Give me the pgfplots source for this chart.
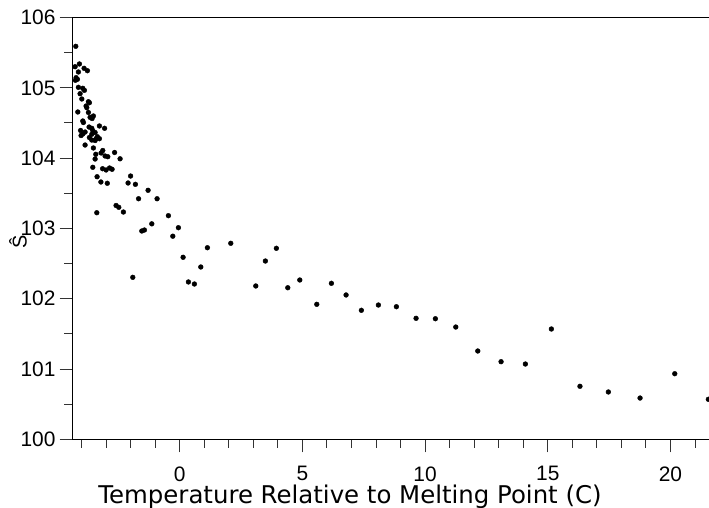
\documentclass[border=0pt]{standalone}
\usepackage{fontspec}
\setmainfont{Liberation Sans}
\newfontfamily\labfont{DejaVu Sans}
\usepackage{pgfplots}
\pgfplotsset{compat=1.18}
\usepackage{pgfplotstable}
\pgfplotstableread{
x y
-4.234 105.590
-4.262 105.300
-4.087 105.339
-3.896 105.277
-3.761 105.243
-4.128 105.225
-4.222 105.144
-4.169 105.121
-4.250 105.107
-4.128 105.007
-3.949 104.993
-3.883 104.964
-4.059 104.916
-3.989 104.841
-3.720 104.802
-3.680 104.788
-3.814 104.741
-3.786 104.717
-4.152 104.656
-3.720 104.649
-3.651 104.580
-3.570 104.563
-3.517 104.599
-3.949 104.528
-3.924 104.506
-3.692 104.442
-3.582 104.424
-3.272 104.457
-3.060 104.424
-4.038 104.393
-3.855 104.371
-3.949 104.343
-4.018 104.321
-3.541 104.390
-3.447 104.364
-3.582 104.339
-3.354 104.304
-3.680 104.293
-3.582 104.257
-3.407 104.276
-3.272 104.276
-3.447 104.250
-3.855 104.186
-3.517 104.144
-3.134 104.108
-3.203 104.073
-3.040 104.030
-2.930 104.020
-3.419 104.054
-3.447 103.987
-2.653 104.080
-2.429 103.990
-3.541 103.869
-3.142 103.849
-2.999 103.831
-2.857 103.859
-2.755 103.841
-3.366 103.735
-2.001 103.745
-3.211 103.660
-2.950 103.642
-2.103 103.646
-1.805 103.627
-1.288 103.542
-1.675 103.422
-0.921 103.422
-2.592 103.326
-2.482 103.300
-3.378 103.223
-2.294 103.233
-0.460 103.181
-1.137 103.065
-1.544 102.963
-1.438 102.977
-0.281 102.889
-0.053 103.010
-1.911 102.304
0.139 102.589
0.355 102.238
0.599 102.209
0.860 102.451
1.129 102.725
2.082 102.788
3.101 102.181
3.492 102.536
3.940 102.717
4.405 102.156
4.894 102.266
5.587 101.920
6.182 102.219
6.781 102.053
7.404 101.835
8.097 101.910
8.831 101.886
9.633 101.721
10.420 101.715
11.251 101.597
12.147 101.256
13.097 101.104
14.087 101.071
15.147 101.569
16.312 100.754
17.469 100.673
18.761 100.587
20.175 100.933
21.544 100.569
}\datatable
\begin{document}
\begin{tikzpicture}
\begin{axis}[
  at={(72.7bp,68.7bp)}, anchor=south west,
  scale only axis,
  width=640.7bp, height=421.8bp,
  xmin=-4.36, xmax=21.75,
  ymin=100, ymax=106,
  xtick={0,5,10,15,20},
  minor xtick={-4,-3,...,21},
  ytick={100,101,...,106},
  minor ytick={100.5,101.5,...,105.5},
  tick align=outside,
  xtick pos=bottom, ytick pos=left,
  major tick length=13bp, minor tick length=8.5bp,
  axis line style={line width=1.1bp},
  every tick/.style={line width=0.9bp, black!80},
  tick label style={font=\fontsize{21}{21}\selectfont, inner sep=0pt},
  /pgf/number format/assume math mode=true,
  xticklabel style={anchor=north, yshift=-14bp},
  yticklabel style={anchor=east, xshift=-4bp},
  clip=false,
]
\addplot[only marks, mark=*, mark size=2.4bp, black] table[x=x,y=y] {\datatable};
\end{axis}
\node[anchor=base, inner sep=0pt, font=\labfont\fontsize{24.5}{24.5}\selectfont] at (350bp,5bp) {Temperature Relative to Melting Point (C)};
\node[rotate=90, inner sep=0pt, font=\fontsize{20}{20}\selectfont] at (18bp,266bp) {Ŝ};
\pgfresetboundingbox
\useasboundingbox (0,0) rectangle (709bp,508bp);
\end{tikzpicture}
\end{document}
